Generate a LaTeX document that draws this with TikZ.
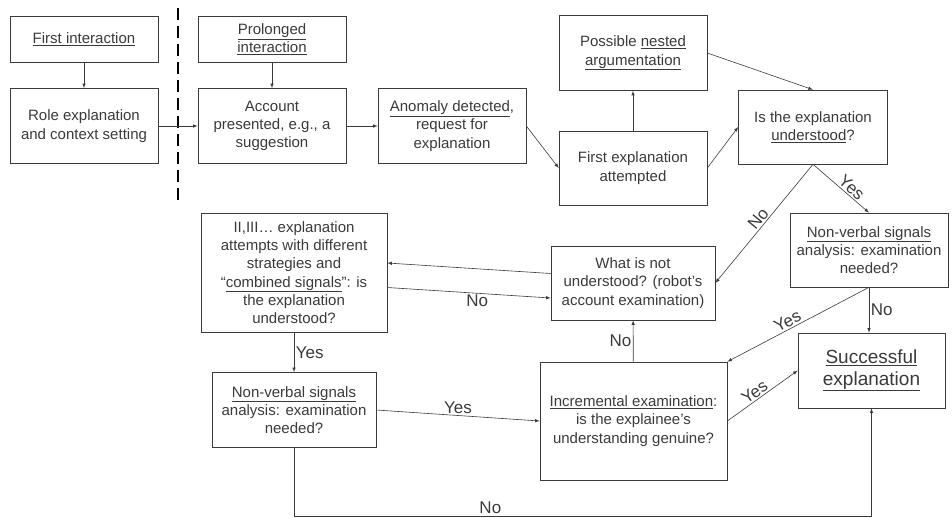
\documentclass[tikz,border=0pt]{standalone}
\usepackage{fontspec}
\setmainfont{Liberation Sans}
\usepackage{tikz}
\definecolor{ink}{HTML}{3A3A3A}

\begin{document}
\begin{tikzpicture}[x=1pt,y=-1pt,line width=0.6pt,draw=ink,text=ink,>=latex,
  box/.style={draw=ink,align=center,inner sep=2pt,font={\fontsize{15}{18.3}\selectfont}},
  lbl/.style={font={\fontsize{17}{19}\selectfont},text=ink,inner sep=1.5pt}]
\useasboundingbox (0,0) rectangle (952,517);
\def\w{148}
\def\h{75}
% left part
\node[box,minimum width=\w,minimum height=46] (first) at (84,39) {\underline{First interaction}};
\node[box,minimum width=\w,minimum height=\h] (role) at (84,126) {Role explanation\\and context setting};
\node[box,minimum width=\w,minimum height=46] (prol) at (272,39) {\underline{Prolonged}\\\underline{interaction}};
\node[box,minimum width=\w,minimum height=\h] (acc) at (272,126) {Account\\presented, e.g., a\\suggestion};
\node[box,minimum width=\w,minimum height=\h] (anom) at (452,126) {\underline{Anomaly detected},\\request for\\explanation};
\node[box,minimum width=\w,minimum height=\h] (nest) at (633,53) {Possible \underline{nested}\\\underline{argumentation}};
\node[box,minimum width=\w,minimum height=74] (fexp) at (633,168) {First explanation\\attempted};
\node[box,minimum width=149,minimum height=74] (isund) at (813,127) {Is the explanation\\\underline{understood}?};
% second row
\node[box,minimum width=158,minimum height=74] (nvr) at (869,250) {\underline{Non-verbal signals}\\analysis: examination\\needed?};
\node[box,minimum width=164,minimum height=74] (what) at (633,283) {What is not\\understood? (robot’s\\account examination)};
\node[box,minimum width=186,minimum height=119] (two) at (294,272.5) {II,III… explanation\\attempts with different\\strategies and\\“\underline{combined signals}”: is\\the explanation\\understood?};
% bottom row
\node[box,minimum width=164,minimum height=\h] (nvl) at (294,410) {\underline{Non-verbal signals}\\analysis: examination\\needed?};
\node[box,minimum width=187,minimum height=118] (inc) at (633.5,421) {\underline{Incremental examination}:\\is the explainee’s\\understanding genuine?};
\node[box,minimum width=147,minimum height=\h,font={\fontsize{19}{21.7}\selectfont}] (succ) at (871.5,370.5) {\underline{Successful}\\\underline{explanation}};

\draw[dash pattern=on 12pt off 6pt,line width=1.3pt,draw=black] (178,8) -- (178,200);

\draw[->] (first) -- (role);
\draw[->] (prol) -- (acc);
\draw[->] (role) -- (acc);
\draw[->] (acc) -- (anom);
\draw[->] (anom.east) -- (fexp.west);
\draw[->] (fexp) -- (nest);
\draw[->] (fexp.east) -- (isund.west);
\draw[->] (nest.east) -- (isund.north);
\draw[->] (isund.south) -- node[lbl,sloped,above] {No} (what.east);
\draw[->] (isund.south) -- node[lbl,sloped,above,pos=0.6] {Yes} (nvr.north);
\draw[->] (nvr.south) -- node[lbl,right] {No} (nvr.south |- succ.north);
\draw[->] (nvr.south) -- node[lbl,sloped,above,pos=0.55] {Yes} (inc.north east);
\draw[->] (inc) -- node[lbl,left] {No} (what);
\draw[->] (inc.east) -- node[lbl,sloped,above,pos=0.45] {Yes} (succ.west);
\draw[->] ([yshift=9.5]what.west) -- ([yshift=9.5]two.east);
\draw[->] ([yshift=-15]two.east) -- node[lbl,below,pos=0.55] {No} ([yshift=-15]what.west);
\draw[->] (two) -- node[lbl,right] {Yes} (nvl);
\draw[->] (nvl.east) -- node[lbl,above] {Yes} (inc.west);
\draw[->] (nvl.south) -- ++(0,68) -| node[lbl,above,pos=0.17] {No} (succ.south);
\end{tikzpicture}
\end{document}
